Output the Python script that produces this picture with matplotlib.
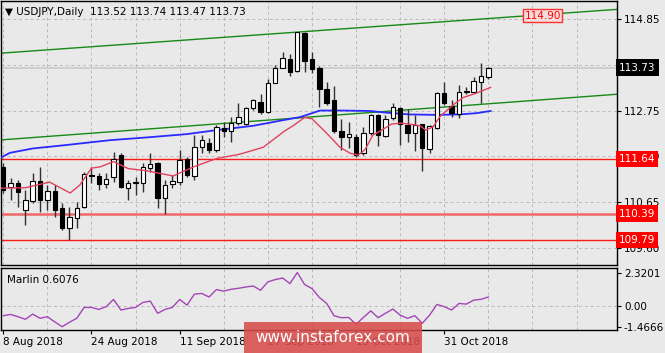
import numpy as np
import matplotlib
matplotlib.use("Agg")
import matplotlib.pyplot as plt

plt.rcParams['font.family'] = ['DejaVu Sans']

# ---- data ----
opens = [111.46, 111.00, 111.08, 110.47, 110.68, 111.14, 110.71, 110.90, 110.51, 110.06,
         110.29, 110.55, 111.27, 111.26, 111.07, 111.23, 111.74, 110.97, 111.09, 111.08,
         111.43, 111.54, 110.74, 111.07, 111.12, 111.63, 111.25, 111.92, 112.01, 111.85,
         112.36, 112.29, 112.47, 112.44, 112.80, 112.95, 112.72, 113.39, 113.73, 113.93,
         113.66, 114.52, 113.93, 113.72, 113.24, 112.98, 112.28, 112.14, 112.15, 111.77,
         112.24, 112.65, 112.17, 112.57, 112.80, 112.42, 112.23, 112.43, 111.86, 112.34,
         113.15, 112.85, 112.67, 113.17, 113.18, 113.41, 113.52]
highs = [111.55, 111.20, 111.16, 110.93, 111.31, 111.46, 111.04, 111.04, 110.62, 110.55,
         110.66, 111.35, 111.46, 111.31, 111.31, 111.81, 111.77, 111.16, 111.23, 111.54,
         111.77, 111.56, 111.16, 111.27, 111.85, 111.69, 112.19, 112.19, 112.11, 112.42,
         112.49, 112.60, 112.92, 112.83, 113.01, 113.13, 113.47, 113.80, 114.08, 114.05,
         114.56, 114.56, 114.10, 113.76, 113.41, 113.31, 112.55, 112.49, 112.21, 112.37,
         112.66, 112.67, 112.65, 112.92, 112.83, 112.78, 112.65, 112.45, 112.42, 113.17,
         113.41, 112.99, 113.34, 113.30, 113.51, 113.85, 113.74]
lows = [110.85, 110.70, 110.55, 110.13, 110.62, 110.43, 110.47, 110.32, 110.01, 109.78,
        110.05, 110.51, 111.08, 110.93, 110.97, 111.12, 110.97, 110.70, 110.82, 110.89,
        111.35, 110.51, 110.39, 110.97, 111.04, 111.23, 111.16, 111.77, 111.77, 111.81,
        112.15, 112.04, 112.42, 112.42, 112.76, 112.67, 112.69, 113.37, 113.72, 113.54,
        113.64, 113.64, 113.60, 112.83, 112.88, 112.23, 111.85, 111.88, 111.68, 111.73,
        112.19, 111.94, 112.14, 112.53, 111.96, 112.04, 111.83, 111.37, 111.77, 112.33,
        112.88, 112.61, 112.57, 113.13, 113.15, 112.93, 113.47]
closes = [110.93, 111.08, 110.88, 110.70, 111.14, 110.71, 110.90, 110.48, 110.05, 110.30,
          110.52, 111.29, 111.24, 111.07, 111.19, 111.65, 111.00, 111.08, 111.11, 111.45,
          111.52, 110.74, 111.04, 111.14, 111.62, 111.27, 111.92, 112.07, 111.85, 112.38,
          112.28, 112.47, 112.60, 112.80, 112.98, 112.72, 113.37, 113.72, 113.95, 113.64,
          114.54, 113.89, 113.70, 113.24, 112.93, 112.27, 112.15, 112.21, 111.73, 112.24,
          112.65, 112.19, 112.55, 112.82, 112.44, 112.24, 112.42, 111.88, 112.40, 113.15,
          112.92, 112.70, 113.18, 113.19, 113.43, 113.53, 113.73]

# fast MA (red), sampled along the line: bar position, price
red_x = [-0.45, 3, 6.3, 9.1, 10.4, 12, 13.2, 15, 17, 19.5, 23.1, 25.9, 29, 32.2, 35.4,
         38.1, 39.5, 41, 42, 44, 45.8, 47.2, 48.3, 49.2, 50.3, 51.5, 52.8, 54, 55.3,
         56.7, 57.5, 58.5, 59.4, 61.2, 62.6, 64.4, 66.3]
red_y = [110.97, 110.98, 111.11, 110.86, 111.04, 111.43, 111.46, 111.58, 111.42, 111.37,
         111.25, 111.46, 111.65, 111.75, 111.91, 112.26, 112.41, 112.59, 112.56, 112.23,
         111.91, 111.77, 111.73, 111.85, 112.19, 112.30, 112.44, 112.46, 112.44, 112.40,
         112.30, 112.38, 112.61, 112.88, 113.05, 113.15, 113.28]

# slow MA (blue)
blue_x = [-0.45, 0.9, 4, 8.6, 14.5, 20, 25, 29, 34, 38.1, 40.4, 43.1, 45.8, 49.9, 52.2,
          55.3, 58.9, 62.1, 64.4, 66.3]
blue_y = [111.66, 111.78, 111.88, 111.96, 112.07, 112.14, 112.21, 112.30, 112.40, 112.53,
          112.60, 112.75, 112.75, 112.74, 112.70, 112.66, 112.65, 112.66, 112.69, 112.74]

# channel lines (green)
chan_x = [-0.45, 83.5]
chan_upper = [114.063, 115.068]
chan_lower = [112.075, 113.123]

levels = [111.64, 110.39, 109.79]
last_price = 113.73

price_ticks = [114.85, 113.80, 112.75, 111.70, 110.65, 109.60]

marlin = [-0.70, -0.61, -0.77, -0.95, -0.59, -0.88, -0.77, -1.13, -1.47, -1.16,
          -0.88, -0.12, -0.12, -0.26, -0.07, 0.44, -0.30, -0.19, -0.12, 0.23,
          0.32, -0.53, -0.26, -0.12, 0.44, 0.04, 0.81, 0.86, 0.61, 1.13,
          1.02, 1.15, 1.22, 1.31, 1.38, 1.08, 1.67, 1.83, 1.94, 1.55,
          2.32, 1.48, 1.20, 0.58, 0.16, -0.70, -0.84, -0.82, -1.30, -0.82,
          -0.36, -0.84, -0.53, -0.23, -0.66, -0.88, -0.70, -1.23, -0.66, 0.09,
          -0.07, -0.30, 0.16, 0.11, 0.39, 0.45, 0.61]

date_pos = [0, 12, 24, 36, 48, 60]
date_labels = ['8 Aug 2018', '24 Aug 2018', '11 Sep 2018', '27 Sep 2018',
               '15 Oct 2018', '31 Oct 2018']

# ---- figure ----
BG = '#e9e9e9'
W, H = 665, 353
FS = 7.5
fig = plt.figure(figsize=(W / 100, H / 100), dpi=100, facecolor=BG)
ax = fig.add_axes([1 / W, 1 - 265 / H, 616 / W, 264 / H], facecolor=BG)
ax2 = fig.add_axes([1 / W, 1 - 330 / H, 616 / W, 62 / H], facecolor=BG)

x = np.arange(len(closes))
xlim = (-0.31, 83.5)

# grid
for a in (ax, ax2):
    a.set_xlim(*xlim)
    a.set_xticks(np.arange(0, 84, 6), minor=True)
    a.grid(True, which='minor', axis='x', color='#b9b9b9', ls=(0, (3, 3)), lw=0.7)
    for s in a.spines.values():
        s.set_color('black')
        s.set_linewidth(1)

ax.set_ylim(109.21, 115.26)
ax.set_yticks(price_ticks)
ax.set_yticklabels([f'{t:.2f}' for t in price_ticks])
ax.yaxis.tick_right()
ax.tick_params(axis='y', direction='out', length=3, width=0.8, pad=2, labelsize=FS)
ax.set_xticks([])
ax.tick_params(axis='x', which='both', length=0)
ax.grid(True, which='major', axis='y', color='#b9b9b9', ls=(0, (3, 3)), lw=0.7)
ax.set_axisbelow(True)

# horizontal levels
ax.axhline(last_price, color='#c9c9c9', lw=1.2, zorder=1)
ax.axhline(levels[0], color='#ff1a1a', lw=1.0, zorder=2)
ax.axhline(levels[1], color='#f06868', lw=1.8, zorder=2)
ax.axhline(levels[2], color='#ff1a1a', lw=1.0, zorder=2)

# channel
ax.plot(chan_x, chan_upper, color='#168a16', lw=1.0, zorder=2)
ax.plot(chan_x, chan_lower, color='#168a16', lw=1.0, zorder=2)

# moving averages
ax.plot(blue_x, blue_y, color='#2a2aff', lw=1.3, zorder=3)
ax.plot(red_x, red_y, color='#e3415d', lw=1.0, zorder=5)

# candles
o = np.array(opens); c = np.array(closes)
up = c >= o
ax.vlines(x, lows, highs, color='#303030', lw=1.0, zorder=4)
body_lo = np.minimum(o, c)
body_h = np.maximum(np.abs(c - o), 0.012)
ax.bar(x[up], body_h[up], bottom=body_lo[up], width=0.6, color='white',
       edgecolor='black', lw=0.8, zorder=4.5)
ax.bar(x[~up], body_h[~up], bottom=body_lo[~up], width=0.6, color='black',
       edgecolor='black', lw=0.8, zorder=4.5)

# price labels on the right
ytr = ax.get_yaxis_transform()
ax.text(1.003, last_price, f'{last_price:.2f}', transform=ytr, ha='left', va='center',
        fontsize=FS, color='white', clip_on=False, zorder=10,
        bbox=dict(boxstyle='square,pad=0.32', fc='black', ec='none'))
for lv in levels:
    ax.text(1.003, lv, f'{lv:.2f}', transform=ytr, ha='left', va='center',
            fontsize=FS, color='white', clip_on=False, zorder=10,
            bbox=dict(boxstyle='square,pad=0.3', fc='#ff0000', ec='none'))

ax.text(70.9, 114.92, '114.90', ha='left', va='center', fontsize=FS, color='#ff0000',
        zorder=10, bbox=dict(boxstyle='square,pad=0.15', fc='#f3dcdc', ec='#ff3030', lw=1))

fig.text(5 / W, 1 - 12 / H, '\u25bc USDJPY,Daily  113.52 113.74 113.47 113.73',
         fontsize=FS, ha='left', va='center', color='black')

# indicator panel
ax2.set_ylim(-1.70, 2.64)
ax2.plot(x, marlin, color='#a445b5', lw=1.0, zorder=3)
ax2.axhline(0, color='#b9b9b9', ls=(0, (3, 3)), lw=0.7, zorder=1)
ax2.yaxis.tick_right()
ax2.set_yticks([2.3201, 0.0, -1.4666])
ax2.set_yticklabels(['2.3201', '0.00', '-1.4666'])
ax2.tick_params(axis='y', direction='out', length=3, width=0.8, pad=2, labelsize=FS)
ax2.set_xticks(date_pos)
ax2.set_xticklabels(date_labels)
for lbl in ax2.get_xticklabels():
    lbl.set_ha('left')
ax2.tick_params(axis='x', which='major', direction='out', length=3, width=0.8,
                pad=2, labelsize=FS)
ax2.tick_params(axis='x', which='minor', length=0)
ax2.text(0.01, 0.80, 'Marlin 0.6076', transform=ax2.transAxes, fontsize=FS,
         ha='left', va='center', color='black')

# watermark
fig.patches.append(plt.Rectangle((244 / W, 0), 178 / W, 31 / H, transform=fig.transFigure,
                                 fc='#d84c4c', ec='none', alpha=0.88, zorder=20))
fig.text(333 / W, 1 - 337 / H, 'www.instaforex.com', fontsize=11, color='white',
         ha='center', va='center', zorder=21)

fig.savefig('out.png', dpi=100, facecolor=BG)
